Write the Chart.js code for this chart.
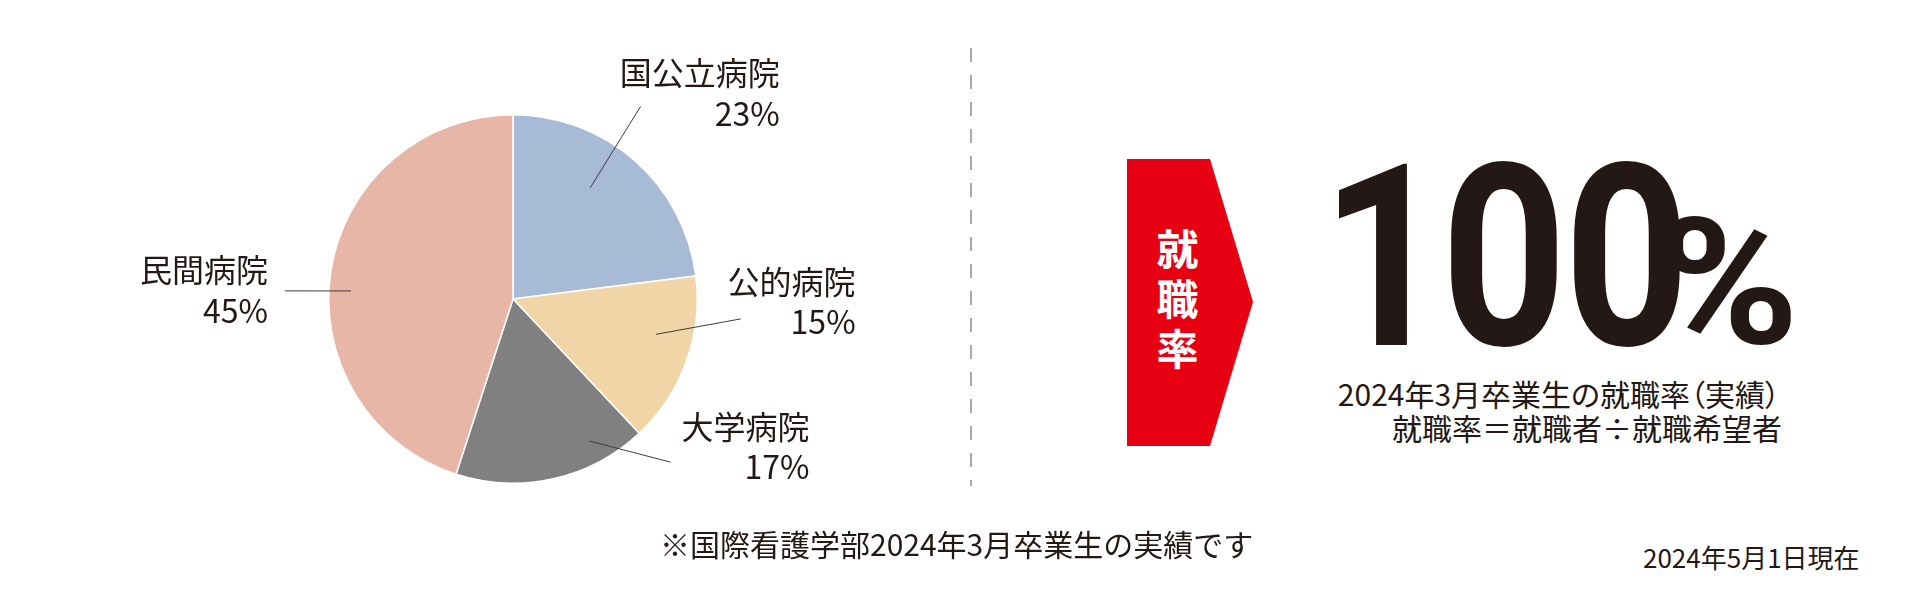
<!DOCTYPE html>
<html lang="ja">
<head>
<meta charset="utf-8">
<script src="https://cdn.jsdelivr.net/npm/chart.js@4.4.1/dist/chart.umd.min.js"></script>
<style>
  html, body { margin:0; padding:0; background:#fff; }
  body { width:1917px; height:605px; position:relative; overflow:hidden;
         font-family:"Noto Sans CJK JP", "Noto Sans", sans-serif; color:#231815; }
  #pie-wrap { position:absolute; left:0; top:0; width:960px; height:605px; }
  .abs { position:absolute; white-space:nowrap; }
  #divider { position:absolute; left:965px; top:0; }
  #arrow { position:absolute; left:1127px; top:159px; width:126px; height:287px; background:#e60012;
           clip-path:polygon(0 0, 83px 0, 126px 143px, 83px 287px, 0 287px); }
  #arrow span { position:absolute; left:29px; top:0; width:42px; height:287px; color:#fff;
                font-weight:700; font-size:42px; line-height:42px; writing-mode:vertical-rl;
                letter-spacing:8px; display:flex; align-items:center; justify-content:center; }
  .g { position:absolute; top:130px; width:200px; text-align:center; font-family:Roboto, sans-serif;
       font-weight:700; font-size:255px; line-height:1; transform:scaleX(0.86); transform-origin:center top; }
  #pct { left:1656px; top:195px; font-family:Roboto, sans-serif; font-weight:700; font-size:176px; line-height:1;
         transform:scaleX(1.1); transform-origin:left top; }
  .cap { font-size:30px; line-height:36px; font-feature-settings:"palt"; }
  #cap1 { right:137px; top:375px; }
  #cap2 { right:135px; top:409px; }
  #note { left:660px; top:525px; font-size:30px; line-height:36px; }
  #date { left:1643px; top:542px; font-size:26px; line-height:30px; }
</style>
</head>
<body>
<div id="pie-wrap"><canvas id="chart-one"></canvas></div>

<svg id="divider" width="12" height="605"><line x1="6" y1="48" x2="6" y2="486" stroke="#a9a9a9" stroke-width="2" stroke-dasharray="14 13"/></svg>

<div id="arrow"><span>就職率</span></div>
<div id="big"><span class="g" style="left:1284px">1</span><span class="g" style="left:1404px">0</span><span class="g" style="left:1527px">0</span></div>
<div class="abs" id="pct">%</div>
<div class="abs cap" id="cap1">2024年3月卒業生の就職率（実績）</div>
<div class="abs cap" id="cap2">就職率＝就職者÷就職希望者</div>
<div class="abs" id="note">※国際看護学部2024年3月卒業生の実績です</div>
<div class="abs" id="date">2024年5月1日現在</div>

<script>
const categories = ["国公立病院", "公的病院", "大学病院", "民間病院"];
const shares = [23, 15, 17, 45];
const sliceColors = ["#a7bad6", "#f2d5a7", "#808080", "#e8b6a6"];

// leader line + label placement (fractions of slice angle / radius, label offsets in px)
const leaderLayout = [
  { inF:0.42,  inR:0.735, outF:0.405, outR:1.254, dx:139,  dy1:-34, dy2:7 },
  { inF:0.39,  inR:0.80,  outF:0.226, outR:1.24,  dx:115,  dy1:-37, dy2:3 },
  { inF:0.243, inR:0.876, outF:-0.013,outR:1.231, dx:139,  dy1:-35, dy2:5 },
  { inF:0.462, inR:0.88,  outF:0.457, outR:1.238, dx:-17,  dy1:-21, dy2:20 }
];

const leaderLabels = {
  id: "leaderLabels",
  afterDatasetsDraw(chart) {
    const ctx = chart.ctx;
    const meta = chart.getDatasetMeta(0);
    ctx.save();
    meta.data.forEach((arc, i) => {
      const p = arc.getProps(["x", "y", "startAngle", "endAngle", "outerRadius"], true);
      const L = leaderLayout[i];
      const span = p.endAngle - p.startAngle;
      const a1 = p.startAngle + span * L.inF;
      const a2 = p.startAngle + span * L.outF;
      const x1 = p.x + Math.cos(a1) * p.outerRadius * L.inR;
      const y1 = p.y + Math.sin(a1) * p.outerRadius * L.inR;
      const x2 = p.x + Math.cos(a2) * p.outerRadius * L.outR;
      const y2 = p.y + Math.sin(a2) * p.outerRadius * L.outR;
      ctx.strokeStyle = "#3c3c3c";
      ctx.lineWidth = 1;
      ctx.beginPath();
      ctx.moveTo(x1, y1);
      ctx.lineTo(x2, y2);
      ctx.stroke();

      ctx.fillStyle = "#231815";
      ctx.textAlign = "right";
      ctx.textBaseline = "middle";
      ctx.font = '32px "Noto Sans CJK JP"';
      ctx.fillText(categories[i], x2 + L.dx, y2 + L.dy1);
      ctx.fillText(shares[i] + "%", x2 + L.dx, y2 + L.dy2);
    });
    ctx.restore();
  }
};

const taskChart = new Chart(document.getElementById("chart-one").getContext("2d"), {
  type: "pie",
  data: {
    labels: categories,
    datasets: [{
      data: shares,
      backgroundColor: sliceColors,
      borderColor: "#ffffff",
      borderWidth: 1.5
    }]
  },
  options: {
    responsive: true,
    maintainAspectRatio: false,
    animation: false,
    layout: { padding: { left:328, right:262, top:114, bottom:121 } },
    plugins: { legend: { display:false }, tooltip: { enabled:false } }
  },
  plugins: [leaderLabels]
});
</script>
</body>
</html>
